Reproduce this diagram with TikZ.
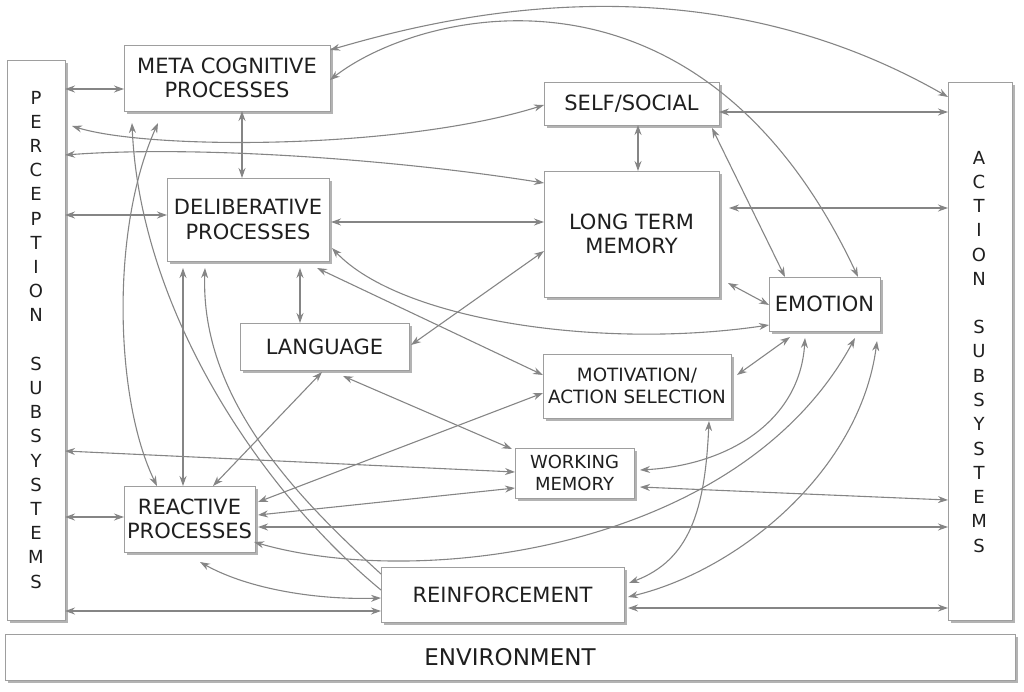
\documentclass[tikz,border=0pt]{standalone}
\usepackage{fontspec}
\setmainfont{DejaVu Sans}
\usepackage{tikz}
\usetikzlibrary{arrows.meta,calc,shadows}
\newcommand{\vword}[5]{%
  \foreach \letr [count=\i from 0] in {#5}
    {\node[vletter] (#1-\i) at (#2,{#3+\i*#4}) {\letr};}%
}

\begin{document}
\begin{tikzpicture}[x=1pt,y=-1pt,
  box/.style={draw=black!38,fill=white,line width=0.8pt,inner sep=0pt,outer sep=0pt,
    align=center,text=black!88,font=\fontsize{21}{24.5}\selectfont,
    drop shadow={shadow xshift=3pt,shadow yshift=-3pt,fill=black!50,opacity=0.6}},
  small/.style={font=\fontsize{18.3}{22}\selectfont},
  vletter/.style={font=\fontsize{18}{18}\selectfont,text=black!88,inner sep=0pt},
  link/.style={draw=black!48,line width=1.1pt},
  >={Stealth[length=10pt,width=7pt]}]
  \useasboundingbox (0,0) rectangle (1024,691);
  % side and bottom bars
  \node[box,minimum width=58pt,minimum height=560pt] (perc) at (36,340) {};
  \node[box,minimum width=64pt,minimum height=538pt] (act) at (980,351) {};
  \node[box,minimum width=1010pt,minimum height=46pt,font=\fontsize{23}{26}\selectfont] (env) at (510,657) {ENVIRONMENT};
  \vword{p}{36}{97.5}{24.2}{P,E,R,C,E,P,T,I,O,N,{},S,U,B,S,Y,S,T,E,M,S}
  \vword{a}{979}{157.5}{24.25}{A,C,T,I,O,N,{},S,U,B,S,Y,S,T,E,M,S}
  % inner boxes
  \node[box,minimum width=206pt,minimum height=66pt] (meta) at (227,78) {META COGNITIVE\\PROCESSES};
  \node[box,minimum width=175pt,minimum height=43pt] (self) at (631.5,103.5) {SELF/SOCIAL};
  \node[box,minimum width=162pt,minimum height=83pt] (delib) at (248,219.5) {DELIBERATIVE\\PROCESSES};
  \node[box,minimum width=175pt,minimum height=126pt] (ltm) at (631.5,234) {LONG TERM\\MEMORY};
  \node[box,minimum width=111pt,minimum height=54pt] (emo) at (824.5,304) {EMOTION};
  \node[box,minimum width=169pt,minimum height=47pt] (lang) at (324.5,346.5) {LANGUAGE};
  \node[box,small,minimum width=188pt,minimum height=64pt] (motiv) at (637,386) {MOTIVATION/\\ACTION SELECTION};
  \node[box,font=\fontsize{18}{21.5}\selectfont,minimum width=119pt,minimum height=50pt] (wm) at (574.5,473) {WORKING\\MEMORY};
  \node[box,minimum width=131pt,minimum height=66pt] (react) at (189.5,519) {REACTIVE\\PROCESSES};
  \node[box,minimum width=243pt,minimum height=55pt] (reinf) at (502.5,594.5) {REINFORCEMENT};
  % perception side
  \draw[link,<->] ($(perc.north east)+(0,29)$) -- ($(meta.north west)+(0,44)$);
  \draw[link,<->] ($(perc.north east)+(7,66)$) .. controls (150,150) and (400,150) .. ($(self.north west)+(0,23)$);
  \draw[link,<->] ($(perc.north east)+(0,95)$) .. controls (200,145) and (400,160) .. ($(ltm.north west)+(0,12)$);
  \draw[link,<->] ($(perc.north east)+(0,155)$) -- ($(delib.north west)+(0,37)$);
  \draw[link,<->] ($(perc.north east)+(0,391)$) -- ($(wm.north west)+(0,24)$);
  \draw[link,<->] ($(perc.north east)+(0,457)$) -- ($(react.north west)+(0,31)$);
  \draw[link,<->] ($(perc.north east)+(0,551)$) -- ($(reinf.north west)+(0,44)$);
  % action side
  \draw[link,<->] ($(meta.north east)+(0,5)$) .. controls (450,15) and (700,-45) .. ($(act.north west)+(0,15)$);
  \draw[link,<->] ($(self.north east)+(0,30)$) -- ($(act.north west)+(0,30)$);
  \draw[link,<->] ($(ltm.north east)+(10,37)$) -- ($(act.north west)+(0,126)$);
  \draw[link,<->] ($(wm.north east)+(6,39)$) -- ($(act.north west)+(0,418)$);
  \draw[link,<->] ($(react.north east)+(3,41)$) -- ($(act.north west)+(0,445)$);
  \draw[link,<->] ($(reinf.north east)+(4,41)$) -- ($(act.north west)+(0,526)$);
  % meta cognitive
  \draw[link,<->] ($(meta.north east)+(0,35)$) .. controls (420,10) and (700,-60) .. ($(emo.north west)+(89,0)$);
  \draw[link,<->] ($(meta.south west)+(118,0)$) -- ($(delib.north west)+(75,0)$);
  \draw[link,<->] ($(meta.south west)+(34,12)$) .. controls (110,230) and (115,400) .. ($(react.north west)+(33,0)$);
  \draw[link,->] ($(reinf.north west)+(0,23)$) .. controls (260,490) and (140,310) .. ($(meta.south west)+(8,12)$);
  % deliberative
  \draw[link,->] ($(reinf.north west)+(0,7)$) .. controls (300,500) and (200,400) .. ($(delib.south west)+(38,7)$);
  \draw[link,<->] ($(delib.north east)+(2,44)$) -- ($(ltm.north west)+(0,51)$);
  \draw[link,<->] ($(delib.south east)+(3,-13)$) .. controls (400,320) and (600,350) .. ($(emo.south west)+(0,-6)$);
  \draw[link,<->] ($(delib.south east)+(-12,7)$) -- ($(motiv.north west)+(0,21)$);
  \draw[link,<->] ($(delib.south east)+(-29,7)$) -- ($(lang.north west)+(60,0)$);
  \draw[link,<->] ($(delib.south west)+(16,7)$) -- ($(react.north west)+(59,0)$);
  % self / memory / emotion
  \draw[link,<->] ($(self.south west)+(94,0)$) -- ($(ltm.north west)+(94,0)$);
  \draw[link,<->] ($(self.south east)+(-7,3)$) -- ($(emo.north west)+(16,0)$);
  \draw[link,<->] ($(ltm.south east)+(9,-14)$) -- ($(emo.north west)+(0,28)$);
  \draw[link,<->] ($(lang.north east)+(2,22)$) -- ($(ltm.north west)+(0,80)$);
  % language
  \draw[link,<->] ($(lang.south west)+(103,6)$) -- ($(wm.north west)+(-3,1)$);
  \draw[link,<->] ($(lang.south west)+(82,2)$) -- ($(react.north west)+(89,0)$);
  % reactive
  \draw[link,<->] ($(react.north east)+(3,16)$) -- ($(motiv.north west)+(0,39)$);
  \draw[link,<->] ($(react.north east)+(3,29)$) -- ($(wm.north west)+(0,40)$);
  \draw[link,<->] ($(react.south east)+(-1,-10)$) .. controls (420,590) and (740,550) .. ($(emo.south west)+(86,7)$);
  \draw[link,<->] ($(react.south west)+(76,10)$) .. controls (250,590) and (320,600) .. ($(reinf.north west)+(0,31)$);
  % emotion below
  \draw[link,<->] ($(emo.south west)+(21,6)$) -- ($(motiv.north east)+(6,21)$);
  \draw[link,<->] ($(emo.south west)+(36,7)$) .. controls (800,420) and (730,465) .. ($(wm.north east)+(6,22)$);
  \draw[link,<->] ($(emo.south west)+(108,10)$) .. controls (860,470) and (740,570) .. ($(reinf.north east)+(4,30)$);
  \draw[link,<->] ($(motiv.south west)+(166,3)$) .. controls (705,510) and (690,560) .. ($(reinf.north east)+(5,16)$);
\end{tikzpicture}
\end{document}
